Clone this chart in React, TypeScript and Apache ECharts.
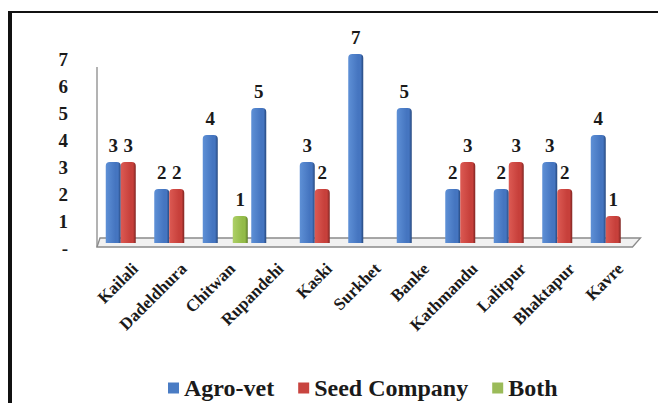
import React, { useEffect, useRef } from "react";
import * as echarts from "echarts";

// Districts and number of outlets of each type
const categories = [
  "Kailali",
  "Dadeldhura",
  "Chitwan",
  "Rupandehi",
  "Kaski",
  "Surkhet",
  "Banke",
  "Kathmandu",
  "Lalitpur",
  "Bhaktapur",
  "Kavre",
];
const agroVet = [3, 2, 4, 5, 3, 7, 5, 2, 2, 3, 4];
const seedCompany = [3, 2, 0, 0, 2, 0, 0, 3, 3, 2, 1];
const both = [0, 0, 1, 0, 0, 0, 0, 0, 0, 0, 0];
const seriesNames = ["Agro-vet", "Seed Company", "Both"];

const Y_MAX = 7;
const Y_STEP = 1;

const W = 658;
const H = 403;
const GRID = { left: 104, right: 20.5, top: 54, bottom: 160 };
const FONT = "'Liberation Serif', 'Times New Roman', serif";

// Flat legend colours and shaded bar fills (light face, dark right side)
const solid = ["#4a7cc4", "#c8443f", "#9bbb59"];
const shade = (light: string, mid: string, dark: string) =>
  new echarts.graphic.LinearGradient(0, 0, 1, 0, [
    { offset: 0, color: light },
    { offset: 0.65, color: mid },
    { offset: 0.82, color: mid },
    { offset: 1, color: dark },
  ]);

export default function App() {
  const ref = useRef<HTMLDivElement>(null);

  useEffect(() => {
    if (!ref.current) return;
    const chart = echarts.init(ref.current, undefined, { renderer: "svg" });

    const baseY = H - GRID.bottom;
    const axisX = GRID.left - 7;
    const floorRight = W - GRID.right + 3;

    const label = {
      show: true,
      position: "top" as const,
      distance: 7,
      fontFamily: FONT,
      fontWeight: "bold" as const,
      fontSize: 19,
      color: "#1a1a1a",
      formatter: (p: any) => (p.value ? String(p.value) : ""),
    };

    const fills = [
      shade("#5e90d6", "#4575c0", "#26487e"),
      shade("#dc5a53", "#c7403b", "#7e2522"),
      shade("#aed068", "#93bb48", "#5b7a27"),
    ];
    const values = [agroVet, seedCompany, both];

    chart.setOption({
      animation: false,
      backgroundColor: "#ffffff",
      grid: { ...GRID },
      legend: {
        left: 163,
        top: 371,
        itemWidth: 11,
        itemHeight: 11,
        itemGap: 24,
        icon: "rect",
        textStyle: {
          fontFamily: FONT,
          fontWeight: "bold",
          fontSize: 24,
          lineHeight: 24,
          color: "#1a1a1a",
        },
        data: seriesNames.map((n, i) => ({ name: n, itemStyle: { color: solid[i] } })),
      },
      xAxis: {
        type: "category",
        data: categories,
        axisLine: { show: false },
        axisTick: { show: false },
        axisLabel: {
          interval: 0,
          rotate: 45,
          margin: 30,
          padding: [0, -10, 0, 0],
          fontFamily: FONT,
          fontWeight: "bold",
          fontSize: 17,
          color: "#1a1a1a",
        },
      },
      yAxis: {
        type: "value",
        min: 0,
        max: Y_MAX,
        interval: Y_STEP,
        offset: 7,
        axisLine: { show: false },
        axisTick: { show: false },
        splitLine: { show: false },
        axisLabel: {
          margin: 29,
          verticalAlign: "top",
          lineHeight: 11,
          fontFamily: FONT,
          fontWeight: "bold",
          fontSize: 19,
          color: "#1a1a1a",
          formatter: (v: number) => (v === 0 ? "-" : String(v)),
        },
      },
      series: seriesNames.map((name, i) => ({
        name,
        type: "bar",
        barWidth: 15,
        barGap: "0%",
        z: 3,
        data: values[i],
        itemStyle: { color: fills[i], borderRadius: [4, 4, 0, 0] },
        label,
      })),
      graphic: [
        // chart frame
        {
          type: "line",
          z: 10,
          shape: { x1: 10, y1: 12, x2: 10, y2: H },
          style: { stroke: "#111", lineWidth: 4 },
        },
        {
          type: "line",
          z: 10,
          shape: { x1: 8, y1: 12, x2: W, y2: 12 },
          style: { stroke: "#111", lineWidth: 2 },
        },
        // back wall edge
        {
          type: "line",
          z: 0,
          shape: { x1: axisX, y1: 67, x2: axisX, y2: baseY + 4 },
          style: { stroke: "#9a9a9a", lineWidth: 1.5 },
        },
        // floor slab
        {
          type: "polygon",
          z: 0,
          shape: {
            points: [
              [axisX, baseY + 4],
              [axisX + 3, baseY - 5],
              [floorRight, baseY - 5],
              [floorRight - 8, baseY + 4],
            ],
          },
          style: { fill: "#f1f1f1", stroke: "#8a8a8a", lineWidth: 1.3 },
        },
      ],
    });

    return () => chart.dispose();
  }, []);

  return (
    <div
      ref={ref}
      style={{ position: "fixed", left: 0, top: 0, width: W, height: H, background: "#fff" }}
    />
  );
}
